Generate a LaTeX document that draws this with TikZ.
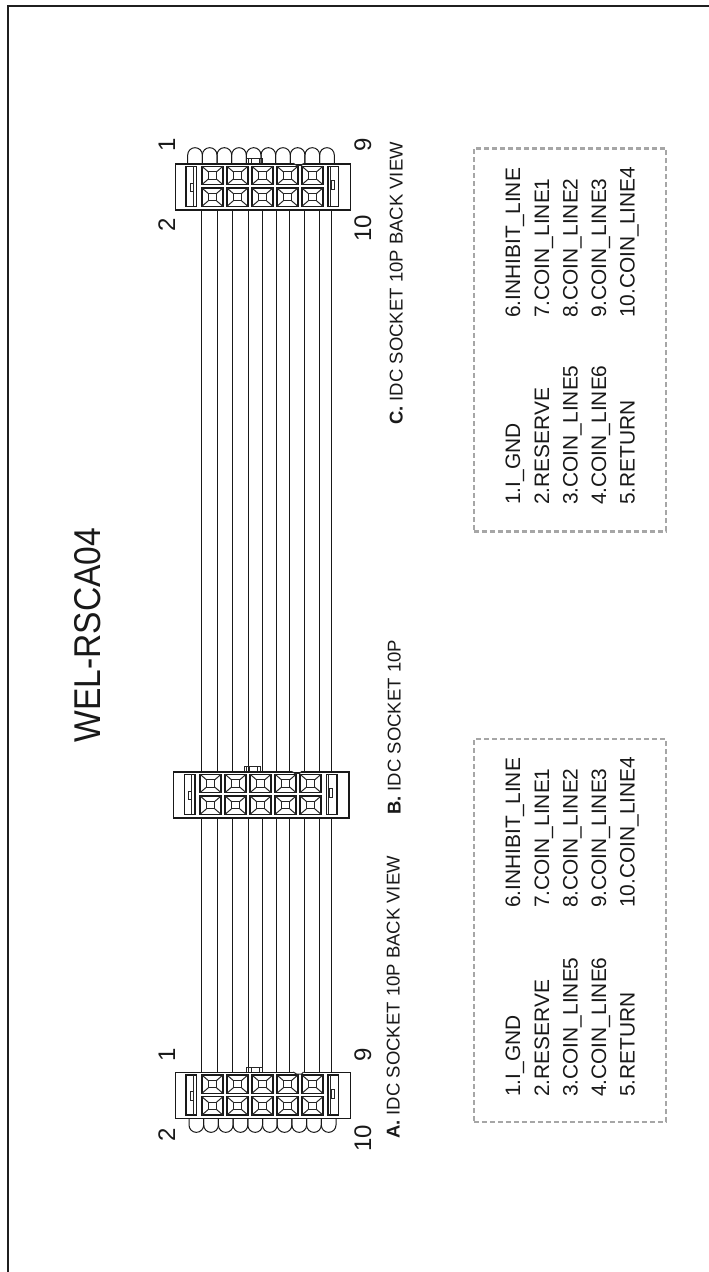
\documentclass[tikz,border=0pt]{standalone}
\usepackage{fontspec}
\setmainfont{Liberation Sans}
\tikzset{
  txt/.style={rotate=90,anchor=base west,inner sep=0pt,text=black!90},
  pinlabel/.style={rotate=90,anchor=base,inner sep=0pt,font=\fontsize{24}{24}\selectfont,text=black!90},
  pinout/.style={txt,font=\fontsize{20.9}{20.9}\selectfont},
  caption/.style={txt,font=\fontsize{18.5}{18.5}\selectfont},
  housing/.style={draw=black!90,line width=1.3pt,fill=white,rectangle,minimum width=175.5pt,minimum height=46pt,anchor=north west,inner sep=0pt},
  wire/.style={draw=black!90,line width=1pt},
  part/.style={draw=black!90,line width=1.3pt},
  thin part/.style={draw=black!85,line width=1pt},
  legend/.style={draw=black!35,line width=2.2pt,dash pattern=on 5pt off 3pt,rectangle,anchor=north west,inner sep=0pt},
  frameline/.style={draw=black!88,line width=2pt}
}
\newcommand{\hdetails}{%
  \foreach \k in {0,...,4}{
    \foreach \r in {3,24.7}{
      \pgfmathsetmacro{\xa}{27.4+25*\k}
      \pgfmathsetmacro{\xb}{\xa+21}
      \pgfmathsetmacro{\ya}{\r}
      \pgfmathsetmacro{\yb}{\r+18.3}
      \draw[part] (\xa,\ya) rectangle (\xb,\yb);
      \draw[thin part] (\xa+6.5,\ya+5.6) rectangle (\xb-6.5,\yb-5.6);
      \draw[thin part] (\xa,\ya) -- (\xa+6.5,\ya+5.6) (\xb,\ya) -- (\xb-6.5,\ya+5.6)
        (\xa,\yb) -- (\xa+6.5,\yb-5.6) (\xb,\yb) -- (\xb-6.5,\yb-5.6);
    }
  }
  \draw[part] (11.5,3) rectangle (22.2,43);
  \draw[thin part] (18.8,3) -- (18.8,43);
  \draw[thin part] (15.5,19.7) rectangle (18.8,28);
  \draw[part] (153.5,3) rectangle (164.2,43);
  \draw[thin part] (155.8,3) -- (155.8,43);
  \draw[thin part] (156.5,17) rectangle (159.8,26);
  \draw[thin part] (71.5,0) -- (71.5,-4.6) -- (87.5,-4.6) -- (87.5,0);
  \draw[thin part] (74,0) -- (74,-4.6) (84.5,0) -- (84.5,-4.6) (77,0) -- (77,-4.6);
}
\newcommand{\hnotch}{%
  \draw[white,line width=1.8pt] (119.2,0) -- (129,0);
  \draw[thin part] (118.8,0) -- (122,2) -- (127,2) -- (129.2,0);
}
\begin{document}
\begin{tikzpicture}[x=1pt,y=-1pt]
\useasboundingbox (0,0) rectangle (709,1272);
\fill[white] (0,0) rectangle (709,1272);
\coordinate (f1) at (7.5,1272);
\coordinate (f2) at (7.5,5.5);
\coordinate (f3) at (709,5.5);
\draw[frameline] (f1) -- (f2) -- (f3);

% wires
\foreach \i/\x in {1/201,2/217,3/232.7,4/248.3,5/262.3,6/276.3,7/289,8/304.7,9/319,10/331.6}{
  \coordinate (wc\i) at (\x,209);
  \coordinate (wa\i) at (\x,1072);
  \draw[wire] (wc\i) -- (wa\i);
}

% connector A
\node[housing] (connA) at (174.5,1072) {};
\begin{scope}[shift={(174.5,1072)}]\hdetails\hnotch\end{scope}
\foreach \k in {0,...,9}{
  \pgfmathsetmacro{\xa}{189+14.7*\k}
  \draw[wire] (\xa,1118) -- (\xa,1125) arc[start angle=180,end angle=0,radius=7.35] -- +(0,-7);
}
% connector C
\node[housing] (connC) at (174.5,163.3) {};
\begin{scope}[shift={(174.5,163.3)}]\hdetails\hnotch\end{scope}
\foreach \k in {0,...,9}{
  \pgfmathsetmacro{\xa}{187.7+14.66*\k}
  \draw[wire] (\xa,163.3) -- (\xa,155) arc[start angle=180,end angle=360,radius=7.33] -- +(0,8.3);
}
% connector B
\node[housing] (connB) at (172.7,771.3) {};
\begin{scope}[shift={(172.7,771.3)}]\hdetails\hnotch\end{scope}

% pin labels
\node[pinlabel] (a1) at (175,1055) {1};
\node[pinlabel] (a2) at (175,1135) {2};
\node[pinlabel] (a9) at (371,1055) {9};
\node[pinlabel] (a10) at (371,1138) {10};
\node[pinlabel] (c1) at (175,145) {1};
\node[pinlabel] (c2) at (175,225) {2};
\node[pinlabel] (c9) at (371,145) {9};
\node[pinlabel] (c10) at (371,228) {10};

% title and captions
\node[rotate=90,anchor=base,inner sep=0pt,font=\fontsize{33.6}{33.6}\selectfont,text=black!90] (title) at (100,635) {\scalebox{1}[1.11]{WEL-RSCA04}};
\node[caption] (capA) at (399.5,1139) {\textbf{A.} IDC SOCKET 10P BACK VIEW};
\node[caption] (capB) at (400.5,815) {\textbf{B.} IDC SOCKET 10P};
\node[caption] (capC) at (402.5,425) {\textbf{C.} IDC SOCKET 10P BACK VIEW};

% legend boxes
\node[legend,minimum width=192pt,minimum height=383pt] (boxA) at (472.7,738) {};
\node[legend,minimum width=192pt,minimum height=383pt] (boxC) at (472.7,147.3) {};

% pinouts A/B
\node[pinout] (pa1) at (520,1097) {1.I\_GND};
\node[pinout] (pa2) at (549,1097) {2.RESERVE};
\node[pinout] (pa3) at (577.5,1097) {3.COIN\_LINE5};
\node[pinout] (pa4) at (606,1097) {4.COIN\_LINE6};
\node[pinout] (pa5) at (634.5,1097) {5.RETURN};
\node[pinout] (pa6) at (520,908) {6.INHIBIT\_LINE};
\node[pinout] (pa7) at (549,908) {7.COIN\_LINE1};
\node[pinout] (pa8) at (577.5,908) {8.COIN\_LINE2};
\node[pinout] (pa9) at (606,908) {9.COIN\_LINE3};
\node[pinout] (pa10) at (634.5,908) {10.COIN\_LINE4};
% pinouts C
\node[pinout] (pc1) at (520,505) {1.I\_GND};
\node[pinout] (pc2) at (549,505) {2.RESERVE};
\node[pinout] (pc3) at (577.5,505) {3.COIN\_LINE5};
\node[pinout] (pc4) at (606,505) {4.COIN\_LINE6};
\node[pinout] (pc5) at (634.5,505) {5.RETURN};
\node[pinout] (pc6) at (520,318) {6.INHIBIT\_LINE};
\node[pinout] (pc7) at (549,318) {7.COIN\_LINE1};
\node[pinout] (pc8) at (577.5,318) {8.COIN\_LINE2};
\node[pinout] (pc9) at (606,318) {9.COIN\_LINE3};
\node[pinout] (pc10) at (634.5,318) {10.COIN\_LINE4};
\end{tikzpicture}
\end{document}
